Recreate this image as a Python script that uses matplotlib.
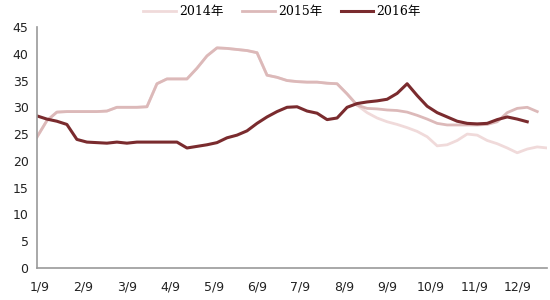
import matplotlib
matplotlib.use("Agg")
import matplotlib.pyplot as plt
import numpy as np

weeks_2016 = list(range(50))
v2016 = [28.4, 27.8, 27.4, 26.8, 24.0, 23.5, 23.4, 23.3, 23.5, 23.3,
         23.5, 23.5, 23.5, 23.5, 23.5, 22.4, 22.7, 23.0, 23.4, 24.3,
         24.8, 25.6, 27.0, 28.2, 29.2, 30.0, 30.1, 29.3, 28.9, 27.7,
         28.0, 30.0, 30.7, 31.0, 31.2, 31.5, 32.6, 34.4, 32.2, 30.2,
         29.0, 28.2, 27.4, 27.0, 26.9, 27.0, 27.7, 28.2, 27.8, 27.3]

weeks_2015 = list(range(51))
v2015 = [24.4, 27.5, 29.1, 29.2, 29.2, 29.2, 29.2, 29.3, 30.0, 30.0,
         30.0, 30.1, 34.4, 35.3, 35.3, 35.3, 37.3, 39.6, 41.1, 41.0,
         40.8, 40.6, 40.2, 36.0, 35.6, 35.0, 34.8, 34.7, 34.7, 34.5,
         34.4, 32.5, 30.4, 29.8, 29.7, 29.5, 29.4, 29.1, 28.5, 27.8,
         27.0, 26.7, 26.7, 26.7, 26.7, 26.8, 27.3, 29.0, 29.8, 30.0,
         29.2]

weeks_2014 = list(range(52))
v2014 = v2015[:33] + [29.0, 28.0, 27.3, 26.8, 26.2, 25.5, 24.5, 22.8, 23.0,
                      23.8, 25.0, 24.8, 23.8, 23.2, 22.4, 21.5, 22.2, 22.6, 22.4]

month_labels = ["1/9", "2/9", "3/9", "4/9", "5/9", "6/9",
                "7/9", "8/9", "9/9", "10/9", "11/9", "12/9"]

fig = plt.figure(figsize=(5.5, 3.0), dpi=100)
ax = fig.add_axes([0.067, 0.107, 0.928, 0.803])

ax.plot(weeks_2014, v2014, color="#f0dada", lw=2.0, label="2014年", solid_joinstyle="round")
ax.plot(weeks_2015, v2015, color="#dcb9b9", lw=2.0, label="2015年", solid_joinstyle="round")
ax.plot(weeks_2016, v2016, color="#7a2b2e", lw=2.2, label="2016年", solid_joinstyle="round")

ax.set_xlim(0, 51)
ax.set_ylim(0, 45)
ax.set_yticks(np.arange(0, 46, 5))
tick_pos = [0.3 + 4.34 * k for k in range(len(month_labels))]
ax.set_xticks(tick_pos)
ax.set_xticklabels(month_labels)
ax.tick_params(axis="both", length=0, labelsize=9, colors="#222222")
ax.tick_params(axis="x", pad=9)
ax.tick_params(axis="y", pad=6)
for s in ["top", "right"]:
    ax.spines[s].set_visible(False)
for s in ["left", "bottom"]:
    ax.spines[s].set_color("#999999")
    ax.spines[s].set_linewidth(1.2)

leg = fig.legend(loc="upper center", bbox_to_anchor=(0.513, 1.02), ncol=3, frameon=False,
                 prop={"family": ["DejaVu Serif", "Noto Sans CJK SC"], "size": 9},
                 handlelength=2.6, columnspacing=1.5, handletextpad=0.25)

fig.savefig("out.png", dpi=100, facecolor="white")
